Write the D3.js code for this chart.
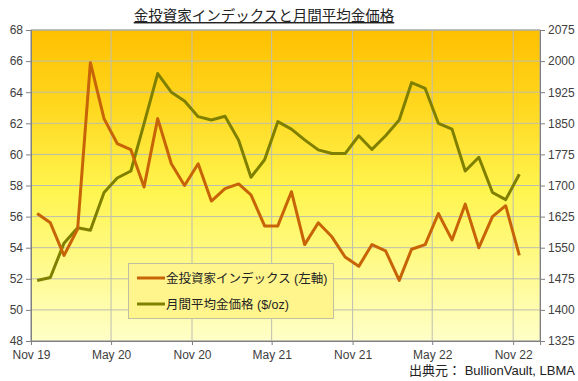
<!DOCTYPE html>
<html><head><meta charset="utf-8">
<script src="https://cdn.jsdelivr.net/npm/d3@7"></script>
<style>body{margin:0;background:#fff;} svg{display:block;font-family:Arial,"Liberation Sans","Noto Sans CJK JP",sans-serif;}</style>
</head><body><svg id="c" width="578" height="381"></svg>
<script>
const months = ["2019-11","2019-12","2020-01","2020-02","2020-03","2020-04","2020-05","2020-06","2020-07","2020-08","2020-09","2020-10","2020-11","2020-12","2021-01","2021-02","2021-03","2021-04","2021-05","2021-06","2021-07","2021-08","2021-09","2021-10","2021-11","2021-12","2022-01","2022-02","2022-03","2022-04","2022-05","2022-06","2022-07","2022-08","2022-09","2022-10","2022-11"];
const investorIndex = [56.2,55.6,53.5,55.2,65.9,62.3,60.7,60.3,57.9,62.3,59.4,58.0,59.4,57.0,57.8,58.1,57.4,55.4,55.4,57.6,54.2,55.6,54.7,53.4,52.8,54.2,53.8,51.9,53.9,54.2,56.2,54.5,56.8,54.0,56.0,56.7,53.5];
const goldPrice = [1471,1478,1561,1598,1592,1683,1718,1735,1849,1970,1925,1904,1866,1858,1867,1809,1720,1762,1854,1836,1810,1786,1777,1777,1820,1787,1820,1858,1948,1934,1850,1836,1735,1768,1683,1666,1727];
const leftTicks = [48,50,52,54,56,58,60,62,64,66,68];
const rightTicks = [1325,1400,1475,1550,1625,1700,1775,1850,1925,2000,2075];
const xTickLabels = ["Nov 19","May 20","Nov 20","May 21","Nov 21","May 22","Nov 22"];
const xTickDates = ["2019-11","2020-05","2020-11","2021-05","2021-11","2022-05","2022-11"];
const titleText = "金投資家インデックスと月間平均金価格";
const seriesNames = ["金投資家インデックス (左軸)","月間平均金価格 ($/oz)"];
const sourceText = "出典元： BullionVault, LBMA";

const svg = d3.select("#c");
const L = 31, R = 540, T = 30, B = 341;
const parse = d3.timeParse("%Y-%m");
const x = d3.scaleTime().domain([parse("2019-11"), parse("2023-01")]).range([L, R]);
const mid = m => d3.timeDay.offset(parse(m), 14);
const yL = d3.scaleLinear().domain([48,68]).range([B,T]);
const yR = d3.scaleLinear().domain([1325,2075]).range([B,T]);

const defs = svg.append("defs");
const g = defs.append("linearGradient").attr("id","bg").attr("x1",0).attr("y1",0).attr("x2",0).attr("y2",1);
g.append("stop").attr("offset","0%").attr("stop-color","#FFC000");
g.append("stop").attr("offset","25%").attr("stop-color","#FFD820");
g.append("stop").attr("offset","52%").attr("stop-color","#FFF550");
g.append("stop").attr("offset","100%").attr("stop-color","#FFFFC8");

svg.append("rect").attr("x",L).attr("y",T).attr("width",R-L).attr("height",B-T).attr("fill","url(#bg)");

// grid
svg.append("g").selectAll("line").data(leftTicks).join("line")
  .attr("x1",L).attr("x2",R).attr("y1",d=>yL(d)).attr("y2",d=>yL(d))
  .attr("stroke","#BDBDB0").attr("stroke-width",1);
svg.append("g").selectAll("line").data(xTickDates).join("line")
  .attr("x1",d=>x(parse(d))).attr("x2",d=>x(parse(d))).attr("y1",T).attr("y2",B)
  .attr("stroke","#BDBDB0").attr("stroke-width",1);

// border
svg.append("rect").attr("x",L).attr("y",T).attr("width",R-L).attr("height",B-T)
  .attr("fill","none").attr("stroke","#A0A0A0").attr("stroke-width",1);

// axes
const axL = d3.axisLeft(yL).tickValues(leftTicks).tickSize(5).tickPadding(3);
const axR = d3.axisRight(yR).tickValues(rightTicks).tickFormat(d3.format("d")).tickSize(5).tickPadding(3);
const axB = d3.axisBottom(x).tickValues(xTickDates.map(parse)).tickFormat((d,i)=>xTickLabels[i]).tickSize(4).tickPadding(5);
function style(sel){
  sel.select(".domain").attr("stroke","#808080");
  sel.selectAll(".tick line").attr("stroke","#808080");
  sel.selectAll(".tick text").attr("fill","#404040").attr("font-size","12px").attr("font-family","Arial, 'Liberation Sans', sans-serif");
}
svg.append("g").attr("transform",`translate(${L},0)`).call(axL).call(style);
svg.append("g").attr("transform",`translate(${R},0)`).call(axR).call(style);
svg.append("g").attr("transform",`translate(0,${B})`).call(axB).call(style);

// lines
const lineL = d3.line().x((d,i)=>x(mid(months[i]))).y(d=>yL(d));
const lineR = d3.line().x((d,i)=>x(mid(months[i]))).y(d=>yR(d));
svg.append("path").datum(goldPrice).attr("d",lineR).attr("fill","none").attr("stroke","#808000").attr("stroke-width",3).attr("stroke-linejoin","round");
svg.append("path").datum(investorIndex).attr("d",lineL).attr("fill","none").attr("stroke","#C86408").attr("stroke-width",3).attr("stroke-linejoin","round");

// legend
const lg = svg.append("g");
lg.append("rect").attr("x",128.5).attr("y",263.5).attr("width",205).attr("height",55)
  .attr("fill","#FFF58C").attr("stroke","#C0C0A0").attr("stroke-width",1);
const colors = ["#C86408","#808000"];
seriesNames.forEach((n,i)=>{
  const yy = 278 + i*26;
  lg.append("line").attr("x1",137).attr("x2",165).attr("y1",yy).attr("y2",yy).attr("stroke",colors[i]).attr("stroke-width",3);
  lg.append("text").attr("x",166).attr("y",yy+4.5).attr("font-size","12.5px").attr("fill","#222").text(n);
});

// title
svg.append("text").attr("x",264).attr("y",21).attr("text-anchor","middle")
  .attr("font-size","14.5px").attr("fill","#222").attr("font-family","'Noto Sans CJK JP',sans-serif")
  .attr("text-decoration","underline").text(titleText);

// source
svg.append("text").attr("x",575).attr("y",375).attr("text-anchor","end")
  .attr("font-size","13px").attr("fill","#222").text(sourceText);
</script></body></html>
